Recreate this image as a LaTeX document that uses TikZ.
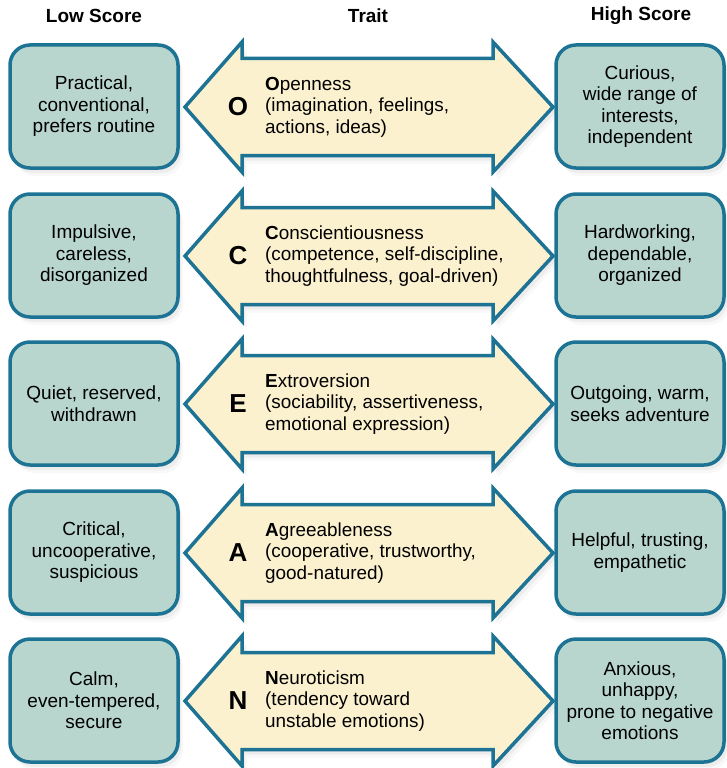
\documentclass[tikz,border=0pt]{standalone}
\usepackage{fontspec}
\setmainfont{Liberation Sans}
\usepackage{xcolor}
\usepackage{tikz}
\usetikzlibrary{shadows}
\usetikzlibrary{positioning}

\definecolor{rimblue}{RGB}{29,115,148}
\definecolor{boxgreen}{RGB}{184,214,205}
\definecolor{arrowcream}{RGB}{252,241,207}

\begin{document}
\begin{tikzpicture}[x=1pt, y=-1pt,
    softshadow/.style={
        drop shadow={shadow xshift=1pt, shadow yshift=-2pt, opacity=0.10},
        drop shadow={shadow xshift=3pt, shadow yshift=-5pt, opacity=0.09},
        drop shadow={shadow xshift=5pt, shadow yshift=-8pt, opacity=0.06}},
    header/.style={font=\fontsize{19}{21}\selectfont\bfseries},
    scorebox/.style={draw=rimblue, line width=3.5pt, rounded corners=20pt, fill=boxgreen,
        minimum width=168pt, minimum height=123pt, align=center, inner sep=2pt,
        font=\fontsize{19}{21.5}\selectfont, softshadow},
    traitarrow/.style={draw=rimblue, line width=3.5pt, fill=arrowcream, line join=miter, softshadow},
    traitletter/.style={font=\fontsize{26}{26}\selectfont\bfseries},
    traittext/.style={anchor=west, align=left, inner sep=0pt, font=\fontsize{18.9}{21.5}\selectfont}]
    \useasboundingbox (0,0) rectangle (727,768);

    % column heads
    \node[header] (hlow) at (94,16) {Low Score};
    \node[header] (htrait) at (368,16) {Trait};
    \node[header] (hhigh) at (641,16) {High Score};

    % O
    \draw[traitarrow] (185,107) -- (242,42) -- (242,58.5) -- (493,58.5) -- (493,42) -- (553,107)
        -- (493,172) -- (493,155.5) -- (242,155.5) -- (242,172) -- cycle;
    \node[scorebox] (low1) at (94,106.5) {Practical,\\conventional,\\prefers routine};
    \node[scorebox] (high1) at (640,106.5) {Curious,\\wide range of\\interests,\\independent};
    \node[traitletter] (l1) at (238,107) {O};
    \node[traittext] (t1) at (265,107) {\textbf{O}penness\\(imagination, feelings,\\actions, ideas)};

    % C
    \draw[traitarrow] (185,256) -- (242,191) -- (242,207.5) -- (493,207.5) -- (493,191) -- (553,256)
        -- (493,321) -- (493,304.5) -- (242,304.5) -- (242,321) -- cycle;
    \node[scorebox] (low2) at (94,255.5) {Impulsive,\\careless,\\disorganized};
    \node[scorebox] (high2) at (640,255.5) {Hardworking,\\dependable,\\organized};
    \node[traitletter] (l2) at (238,256) {C};
    \node[traittext] (t2) at (265,256) {\textbf{C}onscientiousness\\(competence, self-discipline,\\thoughtfulness, goal-driven)};

    % E
    \draw[traitarrow] (185,404) -- (242,339) -- (242,355.5) -- (493,355.5) -- (493,339) -- (553,404)
        -- (493,469) -- (493,452.5) -- (242,452.5) -- (242,469) -- cycle;
    \node[scorebox] (low3) at (94,403.5) {Quiet, reserved,\\withdrawn};
    \node[scorebox] (high3) at (640,403.5) {Outgoing, warm,\\seeks adventure};
    \node[traitletter] (l3) at (238,404) {E};
    \node[traittext] (t3) at (265,404) {\textbf{E}xtroversion\\(sociability, assertiveness,\\emotional expression)};

    % A
    \draw[traitarrow] (185,553) -- (242,488) -- (242,504.5) -- (493,504.5) -- (493,488) -- (553,553)
        -- (493,618) -- (493,601.5) -- (242,601.5) -- (242,618) -- cycle;
    \node[scorebox] (low4) at (94,552.5) {Critical,\\uncooperative,\\suspicious};
    \node[scorebox] (high4) at (640,552.5) {Helpful, trusting,\\empathetic};
    \node[traitletter] (l4) at (238,553) {A};
    \node[traittext] (t4) at (265,553) {\textbf{A}greeableness\\(cooperative, trustworthy,\\good-natured)};

    % N
    \draw[traitarrow] (185,701) -- (242,636) -- (242,652.5) -- (493,652.5) -- (493,636) -- (553,701)
        -- (493,766) -- (493,749.5) -- (242,749.5) -- (242,766) -- cycle;
    \node[scorebox] (low5) at (94,700.5) {Calm,\\even-tempered,\\secure};
    \node[scorebox] (high5) at (640,700.5) {Anxious,\\unhappy,\\prone to negative\\emotions};
    \node[traitletter] (l5) at (238,701) {N};
    \node[traittext] (t5) at (265,701) {\textbf{N}euroticism\\(tendency toward\\unstable emotions)};
\end{tikzpicture}
\end{document}
